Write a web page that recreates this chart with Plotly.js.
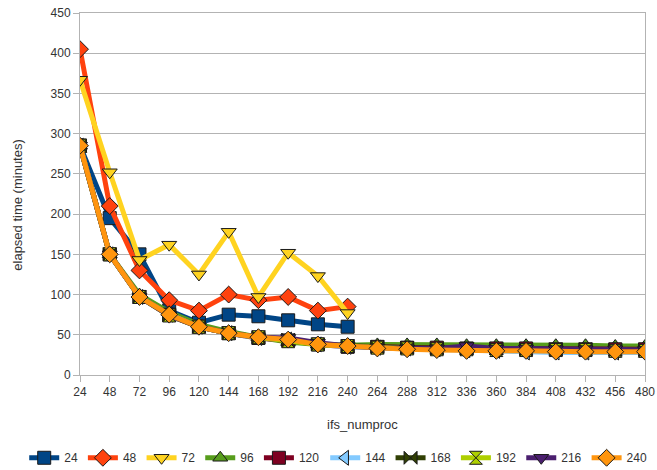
<!DOCTYPE html>
<html>
<head>
<meta charset="utf-8">
<script src="https://cdn.plot.ly/plotly-3.0.1.min.js"></script>
<style>html,body{margin:0;padding:0;background:#fff;}#chart{width:657px;height:470px;}</style>
</head>
<body>
<div id="chart"></div>
<script>
// x categories (ifs_numproc)
const xShort = [24, 48, 72, 96, 120, 144, 168, 192, 216, 240];
const xLong = [24, 48, 72, 96, 120, 144, 168, 192, 216, 240, 264, 288, 312, 336, 360, 384, 408, 432, 456, 480];
const tickVals = [24, 48, 72, 96, 120, 144, 168, 192, 216, 240, 264, 288, 312, 336, 360, 384, 408, 432, 456, 480];

// series values (elapsed time, minutes)
const s24  = [285, 195, 150, 80, 65, 75, 73, 68, 63, 60];
const s48  = [405, 210, 130, 93, 80, 100, 93, 97, 80, 85];
const s72  = [367, 252, 143, 162, 125, 178, 97, 152, 123, 77];
const s96  = [285, 150, 100, 78, 63, 54, 47, 41, 38, 37, 38, 38, 38, 37, 37, 37, 37, 37, 36, 36];
const s120 = [285, 150, 97, 75, 60, 52, 46, 43, 38, 35, 35, 34, 34, 33, 33, 33, 32, 32, 32, 32];
const s144 = [285, 150, 97, 75, 60, 52, 46, 44, 38, 35, 34, 33, 32, 31, 30, 28, 28, 28, 28, 28];
const s168 = [285, 150, 97, 74, 60, 52, 47, 44, 38, 36, 35, 34, 33, 33, 33, 32, 32, 32, 31, 31];
const s192 = [285, 150, 97, 74, 60, 52, 47, 42, 38, 36, 34, 33, 32, 32, 31, 31, 31, 31, 30, 30];
const s216 = [285, 150, 97, 74, 60, 52, 47, 46, 40, 36, 34, 33, 33, 36, 33, 33, 32, 32, 32, 31];
const s240 = [285, 150, 97, 75, 60, 52, 47, 44, 38, 36, 33, 32, 31, 30, 30, 30, 29, 29, 29, 29];

const names = ['24', '48', '72', '96', '120', '144', '168', '192', '216', '240'];
const seriesData = [s24, s48, s72, s96, s120, s144, s168, s192, s216, s240];
const colors = ['#004586', '#ff420e', '#ffd320', '#579d1c', '#7e0021', '#83caff', '#314004', '#aecf00', '#4b1f6f', '#ff950e'];
const symbols = ['square', 'diamond', 'triangle-down', 'triangle-up', 'square', 'triangle-left', 'bowtie', 'hourglass', 'triangle-down', 'diamond'];

const traces = seriesData.map((ys, i) => ({
  type: 'scatter',
  mode: 'lines+markers',
  name: names[i],
  legend: i < 5 ? 'legend' : 'legend2',
  x: ys.length === xShort.length ? xShort : xLong,
  y: ys,
  line: {color: colors[i], width: 5},
  marker: {symbol: symbols[i], size: 13, color: colors[i], line: {color: '#1a1a1a', width: 1}}
}));

const legendFont = {family: 'Liberation Sans, Arial, sans-serif', size: 12, color: '#333333'};

const layout = {
  width: 657, height: 470,
  margin: {l: 80, r: 12, t: 13, b: 95},
  paper_bgcolor: '#ffffff', plot_bgcolor: '#ffffff',
  font: {family: 'Liberation Sans, Arial, sans-serif', size: 12, color: '#333333'},
  showlegend: true,
  legend: {
    orientation: 'h', xref: 'container', yref: 'container',
    x: 0.495, xanchor: 'right', y: 0.026, yanchor: 'middle',
    font: legendFont, entrywidth: 0, itemwidth: 30, tracegroupgap: 0, borderwidth: 0
  },
  legend2: {
    orientation: 'h', xref: 'container', yref: 'container',
    x: 0.495, xanchor: 'left', y: 0.026, yanchor: 'middle',
    font: legendFont, entrywidth: 0, itemwidth: 30, tracegroupgap: 0, borderwidth: 0
  },
  xaxis: {
    range: [24, 480], tickmode: 'array', tickvals: tickVals, ticktext: tickVals.map(String),
    showgrid: false, zeroline: false, showline: true, linecolor: '#b3b3b3', linewidth: 1, mirror: true,
    ticks: 'outside', ticklen: 6, tickcolor: '#b3b3b3',
    tickfont: {size: 12, color: '#333333'}
  },
  yaxis: {
    range: [0, 450], dtick: 50, showgrid: true, gridcolor: '#b3b3b3', zeroline: false,
    showline: true, linecolor: '#b3b3b3', linewidth: 1, mirror: true,
    ticks: 'outside', ticklen: 6, tickcolor: '#b3b3b3',
    tickfont: {size: 12, color: '#333333'}
  },
  annotations: [
    {text: 'ifs_numproc', xref: 'paper', yref: 'paper', x: 0.5, y: -0.138,
     xanchor: 'center', yanchor: 'middle', showarrow: false, font: {size: 13, color: '#333333'}},
    {text: 'elapsed time (minutes)', xref: 'paper', yref: 'paper', x: -0.11, y: 0.47,
     xanchor: 'center', yanchor: 'middle', textangle: -90, showarrow: false, font: {size: 13, color: '#333333'}}
  ]
};

Plotly.newPlot('chart', traces, layout, {displayModeBar: false, staticPlot: true});
</script>
</body>
</html>
